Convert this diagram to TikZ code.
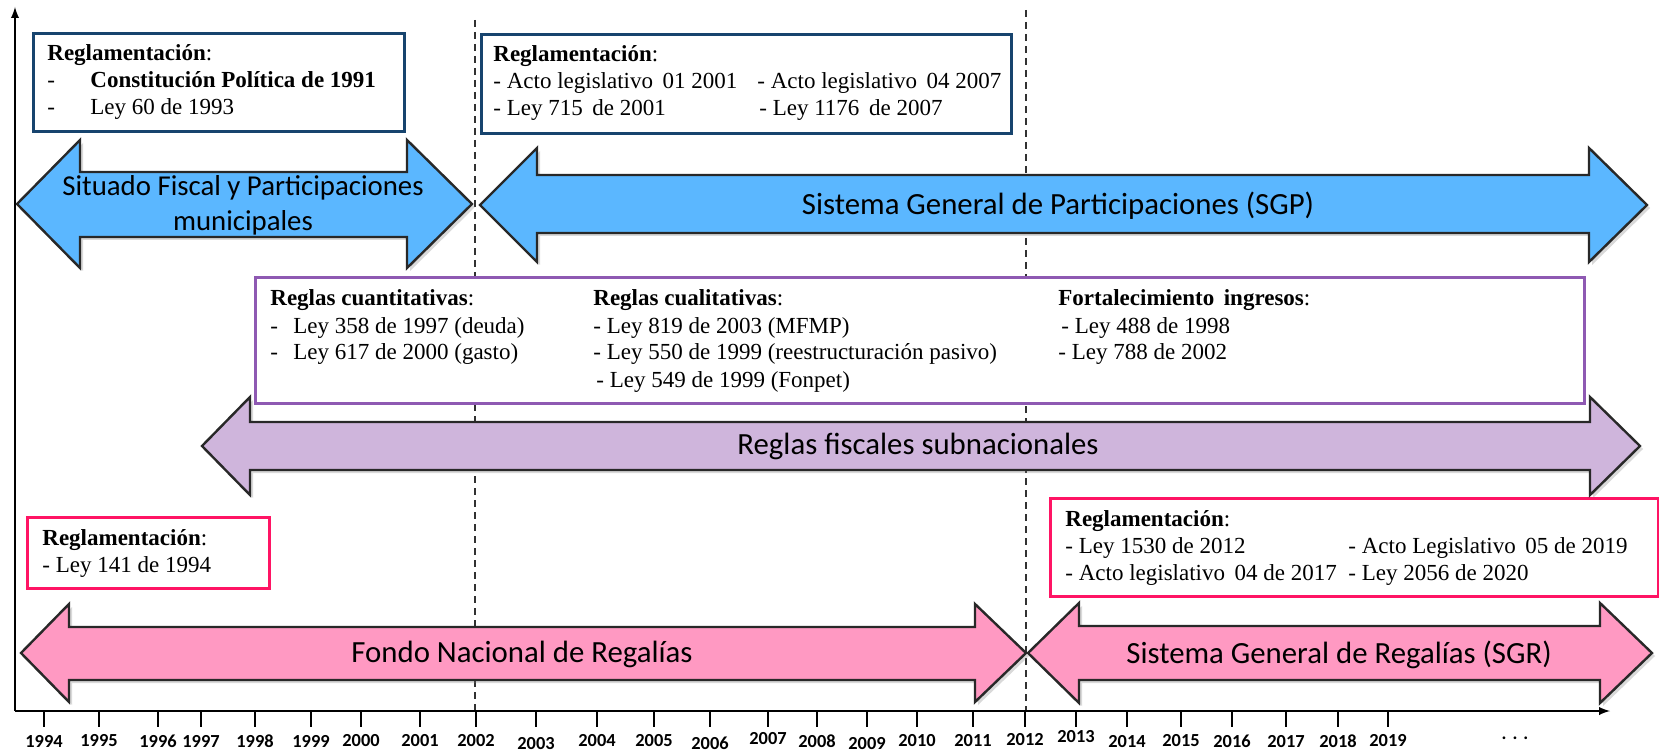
\documentclass[tikz,border=0pt]{standalone}
\usepackage{fontspec}
\setmainfont{Liberation Serif}
\newfontfamily\calibri{Carlito}
\usetikzlibrary{shadows}

\definecolor{azulsgp}{RGB}{91,183,255}
\definecolor{lila}{RGB}{207,181,220}
\definecolor{rosa}{RGB}{255,153,194}
\definecolor{azulcaja}{RGB}{23,68,110}
\definecolor{moradocaja}{RGB}{142,89,178}
\definecolor{rosacaja}{RGB}{255,20,100}
\definecolor{contorno}{RGB}{40,40,40}
\definecolor{guia}{RGB}{50,50,50}

\newcommand{\guion}{\makebox[21.5pt][l]{-}}

\tikzset{
  flecha/.style={draw=contorno, line width=1.2pt, line join=miter,
    drop shadow={opacity=0.3, shadow xshift=1.5pt, shadow yshift=-1.5pt}},
  caja/.style={draw, fill=white, line width=1.5pt, inner sep=0pt, anchor=north west},
  texto/.style={anchor=base west, inner sep=0pt, font=\fontsize{11.5}{13.5}\selectfont},
  etiqueta/.style={font=\calibri\fontsize{15.4}{17.5}\selectfont, align=center, inner sep=0pt},
  anio/.style={font=\calibri\bfseries\fontsize{9.2}{10}\selectfont, inner sep=0pt},
}

\begin{document}
\begin{tikzpicture}[x=0.5pt,y=-0.5pt,>=latex]
  \useasboundingbox (0,0) rectangle (1659,754);

  % lineas de corte 2002 y 2012
  \coordinate (c02a) at (475,20);
  \coordinate (c02b) at (475,711);
  \coordinate (c12a) at (1026,10);
  \coordinate (c12b) at (1026,711);
  \draw [guia, line width=1pt, dash pattern=on 3.5pt off 2.5pt] (c02a) -- (c02b);
  \draw [guia, line width=1pt, dash pattern=on 3.5pt off 2.5pt] (c12a) -- (c12b);

  % ejes
  \coordinate (O) at (15,711);
  \coordinate (xfin) at (1610,711);
  \coordinate (yfin) at (15,7);
  \draw [->, line width=0.9pt] (O) -- (xfin);
  \draw [->, line width=0.9pt] (O) -- (yfin);
  \foreach \x/\yr/\dy in {44/1994/0, 99/1995/0, 158/1996/0, 201/1997/0, 255/1998/0,
      311/1999/0, 361/2000/0, 420/2001/0, 476/2002/0, 536/2003/3, 597/2004/0,
      654/2005/0, 710/2006/2, 768/2007/-2, 817/2008/0, 867/2009/3, 917/2010/0,
      973/2011/0, 1025/2012/-1, 1076/2013/-4, 1127/2014/1, 1181/2015/0,
      1232/2016/0, 1286/2017/1, 1338/2018/0, 1388/2019/0} {
    \draw [line width=0.8pt] (\x,711) -- (\x,727);
    \node [anio] (a\yr) at (\x,{741+\dy}) {\yr};
  }
  \node [anio] (puntos) at (1515,738) {.\hspace{3pt}.\hspace{3pt}.};

  % cajas de reglamentacion
  \node [caja, draw=azulcaja, minimum width=185.5pt, minimum height=49pt] (reg1) at (32,32) {};
  \node [texto] (reg1t) at (47,61) {\begin{tabular}[t]{@{}l@{}}
      \textbf{Reglamentación}:\\
      \guion\textbf{Constitución Política de 1991}\\
      \guion Ley 60 de 1993\end{tabular}};

  \node [caja, draw=azulcaja, minimum width=265pt, minimum height=49.5pt] (reg2) at (480,33) {};
  \node [texto] (reg2t) at (493,62) {\begin{tabular}[t]{@{}l@{}}
      \textbf{Reglamentación}:\\
      - Acto legislativo\, 01 2001\\
      - Ley 715\, de 2001\end{tabular}};
  \node [texto] (reg2u) at (757,89) {\begin{tabular}[t]{@{}l@{}}
      - Acto legislativo\, 04 2007\\
      \hspace{1pt}- Ley 1176\, de 2007\end{tabular}};

  \node [caja, draw=moradocaja, minimum width=664.5pt, minimum height=63pt] (reg3) at (254,276) {};
  \node [texto] (reg3t) at (270,306) {\begin{tabular}[t]{@{}l@{}}
      \textbf{Reglas cuantitativas}:\\
      \makebox[11.5pt][l]{-}Ley 358 de 1997 (deuda)\\
      \makebox[11.5pt][l]{-}Ley 617 de 2000 (gasto)\end{tabular}};
  \node [texto] (reg3u) at (593,306) {\begin{tabular}[t]{@{}l@{}}
      \textbf{Reglas cualitativas}:\\
      - Ley 819 de 2003 (MFMP)\\
      - Ley 550 de 1999 (reestructuración pasivo)\\
      \hspace{1.5pt}- Ley 549 de 1999 (Fonpet)\end{tabular}};
  \node [texto] (reg3v) at (1058,306) {\begin{tabular}[t]{@{}l@{}}
      \textbf{Fortalecimiento\, ingresos}:\\
      \hspace{1.5pt}- Ley 488 de 1998\\
      - Ley 788 de 2002\end{tabular}};

  \node [caja, draw=rosacaja, minimum width=121pt, minimum height=35.5pt] (reg4) at (26,516) {};
  \node [texto] (reg4t) at (42,545) {\begin{tabular}[t]{@{}l@{}}
      \textbf{Reglamentación}:\\
      - Ley 141 de 1994\end{tabular}};

  \node [caja, draw=rosacaja, minimum width=304pt, minimum height=49pt] (reg5) at (1049,497) {};
  \node [texto] (reg5t) at (1065,526) {\begin{tabular}[t]{@{}l@{}}
      \textbf{Reglamentación}:\\
      - Ley 1530 de 2012\\
      - Acto legislativo\, 04 de 2017\end{tabular}};
  \node [texto] (reg5u) at (1348,553) {\begin{tabular}[t]{@{}l@{}}
      - Acto Legislativo\, 05 de 2019\\
      - Ley 2056 de 2020\end{tabular}};

  % flechas de los periodos
  \draw [flecha, fill=azulsgp] (17,204) -- (80,140) -- (80,172) -- (407,172) -- (407,140)
    -- (472,204) -- (407,268) -- (407,237) -- (80,237) -- (80,268) -- cycle;
  \draw [flecha, fill=azulsgp] (480,205) -- (537,148) -- (537,175) -- (1589,175) -- (1589,148)
    -- (1647,205) -- (1589,262) -- (1589,233) -- (537,233) -- (537,262) -- cycle;
  \draw [flecha, fill=lila] (202,446) -- (250,397) -- (250,422) -- (1590,422) -- (1590,397)
    -- (1640,446) -- (1590,495) -- (1590,470) -- (250,470) -- (250,495) -- cycle;
  \draw [flecha, fill=rosa] (21,653) -- (69,604) -- (69,627) -- (975,627) -- (975,604)
    -- (1026,653) -- (975,702) -- (975,680) -- (69,680) -- (69,702) -- cycle;
  \draw [flecha, fill=rosa] (1028,653) -- (1079,603) -- (1079,626) -- (1600,626) -- (1600,603)
    -- (1652,653) -- (1600,703) -- (1600,680) -- (1079,680) -- (1079,703) -- cycle;

  \node [etiqueta, font=\calibri\fontsize{14.4}{17.5}\selectfont] (sitfis) at (243,205) {Situado Fiscal y Participaciones\\municipales};
  \node [etiqueta] (sgp) at (1058,206) {Sistema General de Participaciones (SGP)};
  \node [etiqueta] (reglas) at (918,446) {Reglas fiscales subnacionales};
  \node [etiqueta] (fnr) at (522,654) {Fondo Nacional de Regalías};
  \node [etiqueta] (sgr) at (1339,655) {Sistema General de Regalías (SGR)};
\end{tikzpicture}
\end{document}
